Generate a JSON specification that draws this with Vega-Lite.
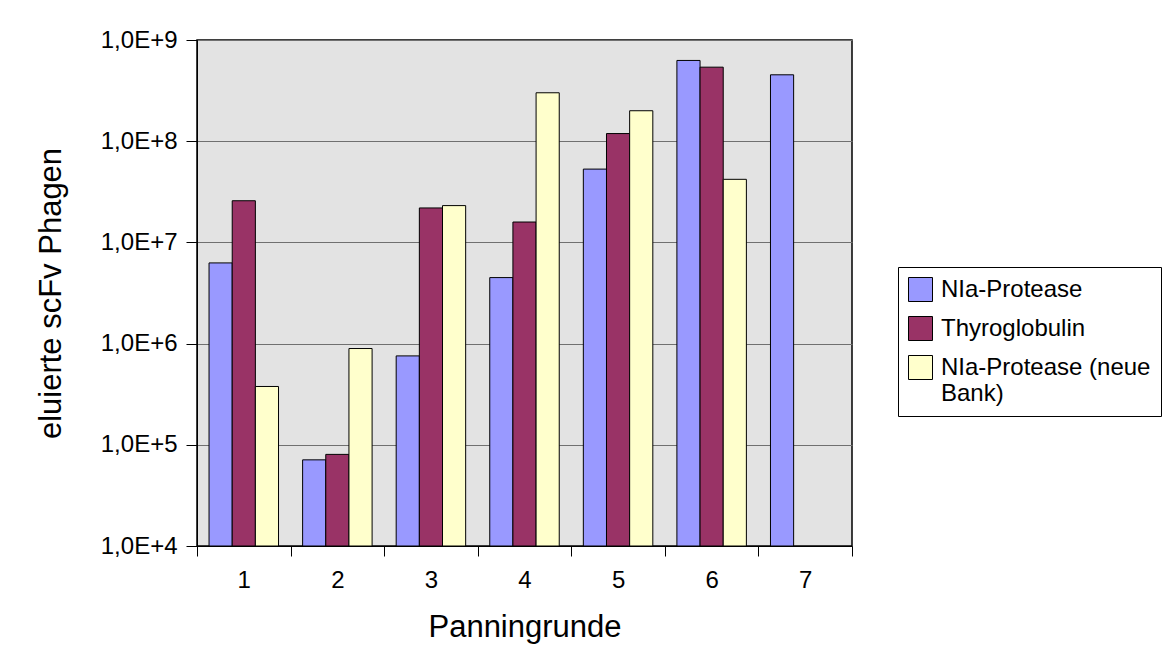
{
  "$schema": "https://vega.github.io/schema/vega-lite/v6.json",
  "autosize": "none",
  "width": 655,
  "height": 506,
  "padding": {"left": 197, "top": 40, "right": 322, "bottom": 103},
  "background": "white",
  "config": {
    "font": "Liberation Sans",
    "view": {"fill": "#E3E3E3", "stroke": "#000000", "strokeWidth": 1.5}
  },
  "data": {
    "values": [
      {"round": "1", "series": "NIa-Protease", "value": 6270000},
      {"round": "1", "series": "Thyroglobulin", "value": 25800000},
      {"round": "1", "series": "NIa-Protease (neue Bank)", "value": 377000},
      {"round": "2", "series": "NIa-Protease", "value": 71000},
      {"round": "2", "series": "Thyroglobulin", "value": 80400},
      {"round": "2", "series": "NIa-Protease (neue Bank)", "value": 894000},
      {"round": "3", "series": "NIa-Protease", "value": 756000},
      {"round": "3", "series": "Thyroglobulin", "value": 21900000},
      {"round": "3", "series": "NIa-Protease (neue Bank)", "value": 23100000},
      {"round": "4", "series": "NIa-Protease", "value": 4490000},
      {"round": "4", "series": "Thyroglobulin", "value": 15900000},
      {"round": "4", "series": "NIa-Protease (neue Bank)", "value": 301000000},
      {"round": "5", "series": "NIa-Protease", "value": 53000000},
      {"round": "5", "series": "Thyroglobulin", "value": 119000000},
      {"round": "5", "series": "NIa-Protease (neue Bank)", "value": 200000000},
      {"round": "6", "series": "NIa-Protease", "value": 628000000},
      {"round": "6", "series": "Thyroglobulin", "value": 539000000},
      {"round": "6", "series": "NIa-Protease (neue Bank)", "value": 42000000},
      {"round": "7", "series": "NIa-Protease", "value": 453000000}
    ]
  },
  "mark": {"type": "bar", "stroke": "#000000", "strokeWidth": 1},
  "encoding": {
    "x": {
      "field": "round",
      "type": "nominal",
      "scale": {"domain": ["1", "2", "3", "4", "5", "6", "7"], "paddingInner": 0, "paddingOuter": 0},
      "axis": {
        "title": "Panningrunde",
        "titleFontSize": 31,
        "titleFontWeight": "normal",
        "titleColor": "#000000",
        "titlePadding": 20,
        "labelFontSize": 24,
        "labelColor": "#000000",
        "labelAngle": 0,
        "labelPadding": 12,
        "tickBand": "extent",
        "tickSize": 10,
        "tickColor": "#000000",
        "domainColor": "#000000",
        "domain": true,
        "grid": false
      }
    },
    "xOffset": {
      "field": "series",
      "type": "nominal",
      "scale": {"domain": ["NIa-Protease", "Thyroglobulin", "NIa-Protease (neue Bank)"], "paddingInner": 0, "paddingOuter": 0.52}
    },
    "y": {
      "field": "value",
      "type": "quantitative",
      "scale": {"type": "log", "domain": [10000, 1000000000], "nice": false},
      "axis": {
        "title": "eluierte scFv Phagen",
        "titleFontSize": 31,
        "titleFontWeight": "normal",
        "titleColor": "#000000",
        "titlePadding": 33,
        "values": [10000, 100000, 1000000, 10000000, 100000000, 1000000000],
        "labelExpr": "replace(upper(format(datum.value, '.1e')), '.', ',')",
        "labelFontSize": 24,
        "labelColor": "#000000",
        "labelPadding": 9,
        "tickSize": 11,
        "tickColor": "#000000",
        "domainColor": "#000000",
        "grid": true,
        "gridColor": "#707070",
        "gridWidth": 1.2
      }
    },
    "y2": {"datum": 10000},
    "fill": {
      "field": "series",
      "type": "nominal",
      "scale": {
        "domain": ["NIa-Protease", "Thyroglobulin", "NIa-Protease (neue Bank)"],
        "range": ["#9999FF", "#993366", "#FFFFCC"]
      },
      "legend": {
        "title": null,
        "orient": "none",
        "legendX": 701,
        "legendY": 227,
        "strokeColor": "#000000",
        "fillColor": "#FFFFFF",
        "padding": 10,
        "symbolType": "square",
        "symbolSize": 576,
        "symbolStrokeColor": "#000000",
        "symbolStrokeWidth": 1,
        "labelFontSize": 24,
        "labelColor": "#000000",
        "labelOffset": 8,
        "labelLimit": 400,
        "rowPadding": 10,
        "labelExpr": "datum.label == 'NIa-Protease (neue Bank)' ? ['NIa-Protease (neue', 'Bank)'] : datum.label"
      }
    }
  }
}
